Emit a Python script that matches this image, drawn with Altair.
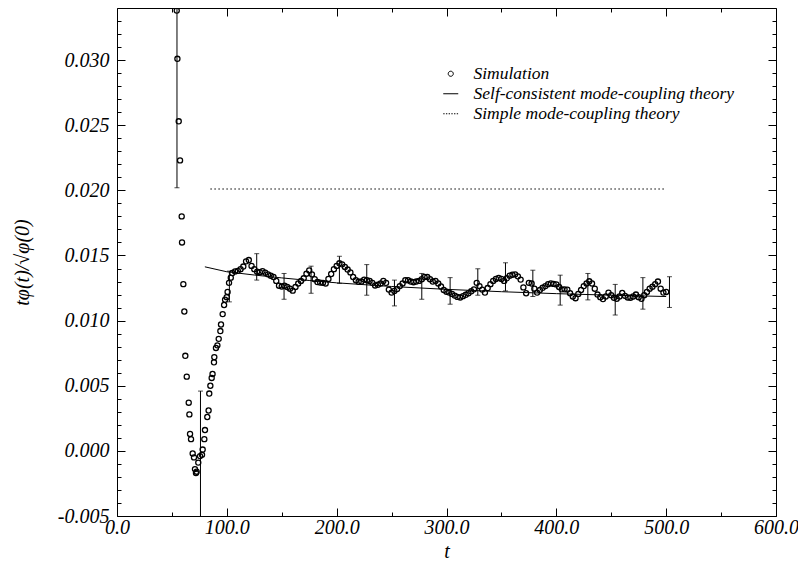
import altair as alt
import pandas as pd

W, H = 659, 508
FONT = "Liberation Serif"

# ---------------- data ----------------
early_t = [54.4, 55.0, 56.2, 57.4, 58.9, 59.2, 60.4, 61.3, 62.2, 63.5, 65.3, 65.9,
           66.5, 67.4, 68.9, 70.1, 71.0, 71.9, 72.5, 74.0, 75.6, 77.4, 78.0, 79.5,
           80.1, 82.2, 83.4, 84.0, 85.0, 86.2, 87.0, 88.3, 88.6, 90.1, 91.4, 92.6,
           94.1, 94.7, 96.2, 97.5, 98.4, 99.9, 100.7, 102.0, 103.6]
early_v = [0.0338, 0.0301, 0.0253, 0.0223, 0.0180, 0.0160, 0.0128, 0.0107, 0.0073, 0.0057,
           0.0037, 0.0028, 0.0013, 0.0009, -0.0002, -0.0005, -0.0014, -0.0017, -0.0016,
           -0.0009, -0.0004, -0.0003, 0.0001, 0.0009, 0.0016, 0.0026, 0.0031, 0.0044,
           0.0050, 0.0056, 0.0059, 0.0068, 0.0072, 0.0079, 0.0081, 0.0086, 0.0092,
           0.0097, 0.0105, 0.0112, 0.0116, 0.0118, 0.0122, 0.0129, 0.0133]

plateau_start = 105.0
plateau_step = 2.5
plateau_v = [
    0.01365, 0.01378, 0.01382, 0.01395, 0.01415, 0.01455, 0.01465, 0.01420, 0.01395, 0.01375,
    0.01372, 0.01380, 0.01368, 0.01355, 0.01345, 0.01335, 0.01305, 0.01268, 0.01262, 0.01268,
    0.01258, 0.01245, 0.01230, 0.01258, 0.01285, 0.01305, 0.01325, 0.01360, 0.01385, 0.01355,
    0.01318, 0.01296, 0.01292, 0.01290, 0.01285, 0.01320, 0.01358, 0.01395, 0.01420, 0.01440,
    0.01432, 0.01412, 0.01392, 0.01370, 0.01335, 0.01310, 0.01298, 0.01300, 0.01315, 0.01310,
    0.01304, 0.01290, 0.01270, 0.01275, 0.01285, 0.01305, 0.01290, 0.01238, 0.01215, 0.01228,
    0.01242, 0.01265, 0.01285, 0.01310, 0.01310, 0.01300, 0.01295, 0.01300, 0.01305, 0.01318,
    0.01335, 0.01335, 0.01318, 0.01300, 0.01305, 0.01285, 0.01262, 0.01235, 0.01222, 0.01215,
    0.01205, 0.01192, 0.01182, 0.01178, 0.01188, 0.01198, 0.01210, 0.01225, 0.01240, 0.01290,
    0.01265, 0.01238, 0.01215, 0.01250, 0.01280, 0.01305, 0.01320, 0.01328, 0.01320, 0.01305,
    0.01325, 0.01345, 0.01352, 0.01355, 0.01340, 0.01315, 0.01255, 0.01210, 0.01290, 0.01285,
    0.01245, 0.01215, 0.01235, 0.01252, 0.01265, 0.01280, 0.01286, 0.01282, 0.01278, 0.01258,
    0.01240, 0.01240, 0.01238, 0.01210, 0.01185, 0.01172, 0.01205, 0.01235, 0.01265, 0.01285,
    0.01302, 0.01285, 0.01245, 0.01200, 0.01180, 0.01165, 0.01185, 0.01215, 0.01195, 0.01175,
    0.01168, 0.01185, 0.01212, 0.01190, 0.01178, 0.01176, 0.01185, 0.01200, 0.01180, 0.01168,
    0.01195, 0.01220, 0.01245, 0.01260, 0.01280, 0.01300, 0.01245, 0.01215, 0.01220,
]

eb_t = [54.6, 76.0, 102.3, 127.2, 152.1, 176.7, 202.5, 227.4, 252.6, 277.5,
        303.3, 328.5, 353.7, 378.6, 403.5, 428.7, 453.6, 478.8, 503.0]
eb_lo = [0.0202, -0.0060, 0.01144, 0.01311, 0.01164, 0.01210, 0.01286, 0.01195, 0.01113, 0.01164,
         0.01126, 0.01195, 0.01228, 0.01185, 0.01119, 0.01159, 0.01043, 0.01088, 0.01101]
eb_hi = [0.0450, 0.00459, 0.01380, 0.01514, 0.01362, 0.01418, 0.01494, 0.01430, 0.01311, 0.01362,
         0.01330, 0.01398, 0.01444, 0.01387, 0.01349, 0.01362, 0.01278, 0.01330, 0.01337]

sc_t = [80, 100, 125, 150, 175, 200, 250, 300, 350, 400, 450, 500]
sc_v = [0.01413, 0.01375, 0.01350, 0.01328, 0.01308, 0.01290, 0.01262, 0.01240,
        0.01222, 0.01207, 0.01195, 0.01185]

smct_t = [85, 500]
smct_v = [0.0201, 0.0201]

series_names = ["Simulation", "Self-consistent mode-coupling theory", "Simple mode-coupling theory"]

x_major = [0, 100, 200, 300, 400, 500, 600]
x_minor = [50, 150, 250, 350, 450, 550]
y_major = [-0.005, 0.0, 0.005, 0.010, 0.015, 0.020, 0.025, 0.030]
y_minor = [round(-0.005 + 0.001 * i, 3) for i in range(40)
           if i % 5 != 0 and -0.005 + 0.001 * i < 0.0339]

# ---------------- tables ----------------
sim_t = early_t + [plateau_start + plateau_step * i for i in range(len(plateau_v))]
sim_v = early_v + plateau_v
sim_df = pd.DataFrame({"t": sim_t, "v": sim_v, "series": "Simulation"})
eb_df = pd.DataFrame({"t": eb_t, "lo": eb_lo, "hi": eb_hi})
sc_df = pd.DataFrame({"t": sc_t, "v": sc_v})
smct_df = pd.DataFrame({"t": smct_t, "v": smct_v})
anchor_df = pd.DataFrame({"t": [300.0], "v": [0.01]})

xs = alt.Scale(domain=[0, 600], nice=False, zero=False)
ys = alt.Scale(domain=[-0.005, 0.034], nice=False, zero=False)

circle_path = "M-0.34,0A0.34,0.34 0 1,1 0.34,0A0.34,0.34 0 1,1 -0.34,0Z"
line_path = "M-1,0H1"
dot_path = "M-1,0H-0.82M-0.64,0H-0.46M-0.28,0H-0.1M0.08,0H0.26M0.44,0H0.62M0.8,0H0.98"

x_main_axis = alt.Axis(
    orient="bottom",
    values=x_major, labelExpr="format(datum.value, '.1f')", labelFont=FONT,
    labelFontStyle="italic", labelFontSize=20, labelColor="black", labelPadding=1,
    ticks=False, domain=False, grid=False, title="t", titleFont=FONT,
    titleFontStyle="italic", titleFontWeight="normal", titleFontSize=20,
    titleColor="black", titleY=35, titleBaseline="middle",
    labelFlush=False, labelOverlap=False,
)
y_main_axis = alt.Axis(
    orient="left",
    values=y_major, labelExpr="replace(format(datum.value, '.3f'), '\u2212', '-')",
    labelFont=FONT, labelFontStyle="italic", labelFontSize=20, labelColor="black",
    labelPadding=8, ticks=False, domain=False, grid=False,
    title="t\u03c6(t)/\u221a\u03c6(0)", titleFont=FONT, titleFontStyle="italic",
    titleFontWeight="normal", titleFontSize=20, titleColor="black",
    titleAngle=270, titleX=-95, titleY=H / 2, titleBaseline="middle", titleAlign="center",
    labelFlush=False, labelOverlap=False,
)

points = alt.Chart(sim_df).mark_point(
    filled=False, size=225, strokeWidth=1.3, color="black", opacity=1, clip=True
).encode(
    x=alt.X("t:Q", scale=xs, axis=x_main_axis),
    y=alt.Y("v:Q", scale=ys, axis=y_main_axis),
    shape=alt.Shape(
        "series:N",
        scale=alt.Scale(domain=series_names, range=[circle_path, line_path, dot_path]),
        legend=alt.Legend(
            orient="none", legendX=325, legendY=57, title=None, padding=0,
            labelFont=FONT, labelFontSize=17.5, labelFontStyle="italic", labelColor="black",
            labelLimit=500,
            symbolSize=225, symbolStrokeWidth=1, symbolStrokeColor="black",
            symbolFillColor="transparent", labelOffset=14, rowPadding=1,
        ),
    ),
)

sc_line = alt.Chart(sc_df).mark_line(color="black", strokeWidth=1, clip=True).encode(
    x=alt.X("t:Q", scale=xs, axis=None),
    y=alt.Y("v:Q", scale=ys, axis=None),
)
smct_line = alt.Chart(smct_df).mark_line(
    color="black", strokeWidth=1.1, strokeDash=[1.5, 2.5], clip=True
).encode(
    x=alt.X("t:Q", scale=xs, axis=None),
    y=alt.Y("v:Q", scale=ys, axis=None),
)
eb_rule = alt.Chart(eb_df).mark_rule(color="black", strokeWidth=1, clip=True).encode(
    x=alt.X("t:Q", scale=xs, axis=None),
    y=alt.Y("lo:Q", scale=ys, axis=None),
    y2="hi:Q",
)
eb_cap_lo = alt.Chart(eb_df).mark_tick(
    color="black", orient="horizontal", size=5, thickness=1, clip=True
).encode(
    x=alt.X("t:Q", scale=xs, axis=None),
    y=alt.Y("lo:Q", scale=ys, axis=None),
)
eb_cap_hi = alt.Chart(eb_df).mark_tick(
    color="black", orient="horizontal", size=5, thickness=1, clip=True
).encode(
    x=alt.X("t:Q", scale=xs, axis=None),
    y=alt.Y("hi:Q", scale=ys, axis=None),
)


def tick_axis(orient, offset, values, size):
    return alt.Axis(orient=orient, offset=offset, values=values, labels=False,
                    domain=False, grid=False, ticks=True, tickSize=size,
                    tickColor="black", tickWidth=1, title=None)


def tick_layer(xo, xoff, yo, yoff, xv, yv, size):
    return alt.Chart(anchor_df).mark_point(opacity=0, size=1).encode(
        x=alt.X("t:Q", scale=xs, axis=tick_axis(xo, xoff, xv, size)),
        y=alt.Y("v:Q", scale=ys, axis=tick_axis(yo, yoff, yv, size)),
    )


ticks = [
    tick_layer("top", -H, "right", -W, x_major, y_major, 8),
    tick_layer("top", -H, "right", -W, x_minor, y_minor, 4),
    tick_layer("bottom", -H, "left", -W, x_major, y_major, 8),
    tick_layer("bottom", -H, "left", -W, x_minor, y_minor, 4),
]

chart = alt.layer(
    smct_line, sc_line, eb_rule, eb_cap_lo, eb_cap_hi, points, *ticks
).resolve_axis(x="independent", y="independent").properties(
    width=W, height=H,
    autosize=alt.AutoSizeParams(type="none"),
    padding={"left": 109, "top": 0, "right": 22, "bottom": 44},
    background="white",
).configure_view(stroke="black", strokeWidth=1)

chart.save("out.html", embed_options={"renderer": "svg", "actions": False})
